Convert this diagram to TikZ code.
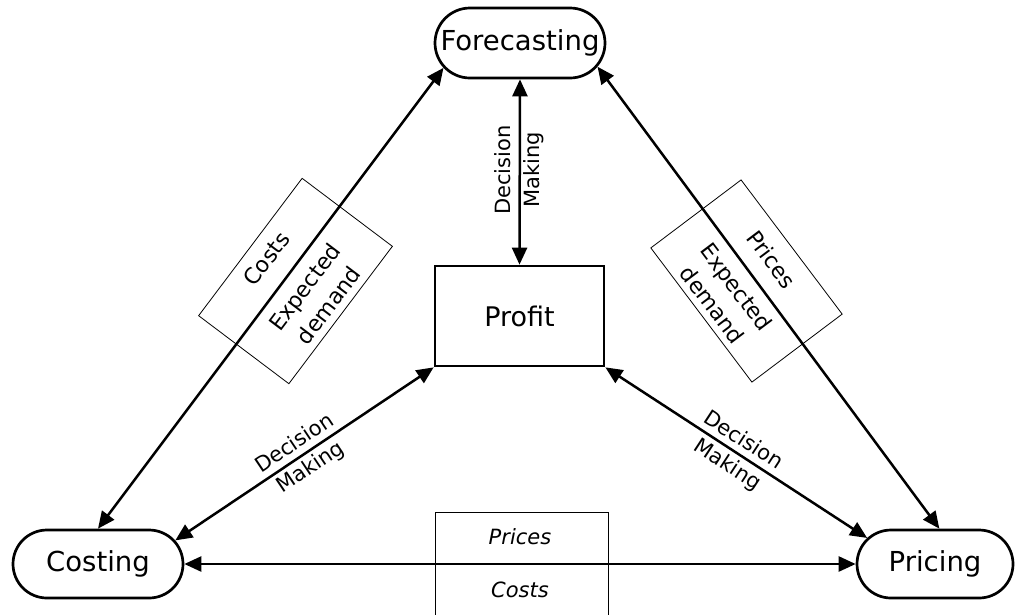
\documentclass[tikz,border=0pt]{standalone}
\usepackage{fontspec}
\setmainfont{DejaVu Sans}
\usetikzlibrary{arrows.meta,shapes.misc}

\tikzset{
  stage/.style={rounded rectangle, draw, line width=2.7pt, minimum height=68pt,
    font=\fontsize{27.5}{32}\selectfont, inner sep=0pt},
  hub/.style={rectangle, draw, line width=2.7pt, minimum width=169pt, minimum height=100pt,
    font=\fontsize{27}{32}\selectfont, inner sep=0pt},
  flow/.style={line width=2.5pt, {Triangle[length=17pt,width=15pt]}-{Triangle[length=17pt,width=15pt]}},
  infobox/.style={rectangle, draw, line width=0.8pt, inner sep=0pt},
  lbl/.style={font=\fontsize{21}{29}\selectfont, align=center, inner sep=0pt},
  boxlbl/.style={font=\fontsize{22}{30}\selectfont, align=center, inner sep=0pt},
}

\begin{document}
\begin{tikzpicture}[x=1pt,y=-1pt]
  \fill[white] (0,0) rectangle (1016,614);
  \useasboundingbox (0,0) rectangle (1016,614);

  % labelled boxes sitting on the links
  \node[infobox, rotate=53, minimum width=172pt, minimum height=113pt] (boxL) at (295.5,281) {};
  \node[infobox, rotate=-53, minimum width=168pt, minimum height=113pt] (boxR) at (746.5,281) {};
  \begin{scope}
    \clip (0,0) rectangle (1016,614);
    \node[infobox, minimum width=173pt, minimum height=120pt, anchor=north west] (boxB) at (435,512) {};
  \end{scope}

  % the four stages
  \node[stage, minimum width=170pt, minimum height=70pt] (fc) at (520,43) {Forecasting};
  \node[stage, minimum width=170pt] (cost) at (98,564) {Costing};
  \node[stage, minimum width=156pt] (pric) at (935,564) {Pricing};
  \node[hub] (profit) at (519.5,316) {Profit};

  % links
  \draw[flow] (fc.south) -- (profit.north);
  \draw[flow] (cost.north) -- (fc.198);
  \draw[flow] (pric.83) -- (fc.343);
  \draw[flow] (profit.south west) -- (cost.17);
  \draw[flow] (profit.south east) -- (pric.159);
  \draw[flow] (cost.east) -- (pric.west);

  % link labels
  \node[lbl, rotate=90] (dmV) at (519,170) {Decision\\Making};
  \node[lbl, rotate=33.8] (dmL) at (303,456) {Decision\\Making};
  \node[lbl, rotate=-33.2] (dmR) at (735,453) {Decision\\Making};

  \node[boxlbl, rotate=53] (costsL) at (266.5,259) {Costs};
  \node[boxlbl, rotate=53] (demL) at (316.5,296) {Expected\\demand};
  \node[boxlbl, rotate=-53] (pricesR) at (771.5,259.5) {Prices};
  \node[boxlbl, rotate=-53] (demR) at (724.5,296) {Expected\\demand};

  \node[lbl] (pricesB) at (520,537) {\itshape Prices};
  \node[lbl] (costsB) at (520,590) {\itshape Costs};
\end{tikzpicture}
\end{document}
